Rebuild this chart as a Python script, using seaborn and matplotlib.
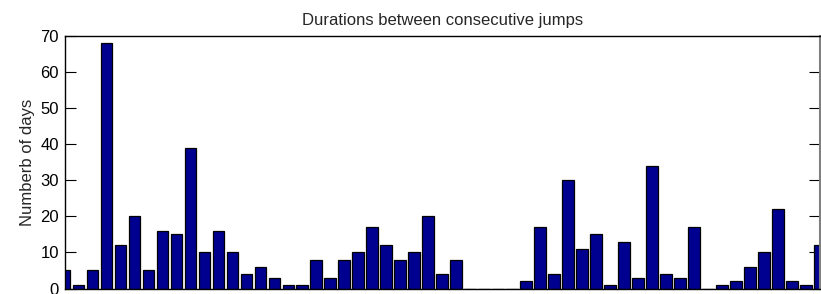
import matplotlib
matplotlib.use("Agg")
import matplotlib.pyplot as plt
import seaborn as sns
import pandas as pd

jump_index = list(range(1, 56))
days = [5, 1, 5, 68, 12, 20, 5, 16, 15, 39,
        10, 16, 10, 4, 6, 3, 1, 1, 8, 3,
        8, 10, 17, 12, 8, 10, 20, 4, 8, 0,
        0, 0, 0, 2, 17, 4, 30, 11, 15, 1,
        13, 3, 34, 4, 3, 17, 0, 1, 2, 6,
        10, 22, 2, 1, 12]
y_ticks = [0, 10, 20, 30, 40, 50, 60, 70]

sns.set_style("white")
plt.rcParams['font.family'] = ['Liberation Sans', 'DejaVu Sans']

df = pd.DataFrame({"jump": jump_index, "days": days})

fig = plt.figure(figsize=(8.21, 2.94), dpi=100)
ax = fig.add_axes([0.0786, 0.0187, 0.9202, 0.859])

sns.barplot(data=df, x="jump", y="days", color="#000090", saturation=1,
            width=0.84, edgecolor="black", linewidth=0.9, ax=ax)

ax.set_xlim(0, len(days) - 1)
ax.set_ylim(0, 70)
ax.set_yticks(y_ticks)
ax.set_yticklabels([str(t) for t in y_ticks], fontsize=12)
ax.set_xticks([])
ax.set_xlabel("")
ax.set_ylabel("Numberb of days", fontsize=12, labelpad=4)
ax.set_title("Durations between consecutive jumps", fontsize=12, pad=8)
ax.tick_params(axis="y", direction="in", length=8, width=0.8, left=True, right=True,
               pad=4, colors="black")
for s in ax.spines.values():
    s.set_visible(True)
    s.set_color("black")
    s.set_linewidth(1.0)
ax.spines["right"].set_color("#808080")
ax.spines["right"].set_linewidth(1.5)

fig.savefig("out.png", dpi=100)
